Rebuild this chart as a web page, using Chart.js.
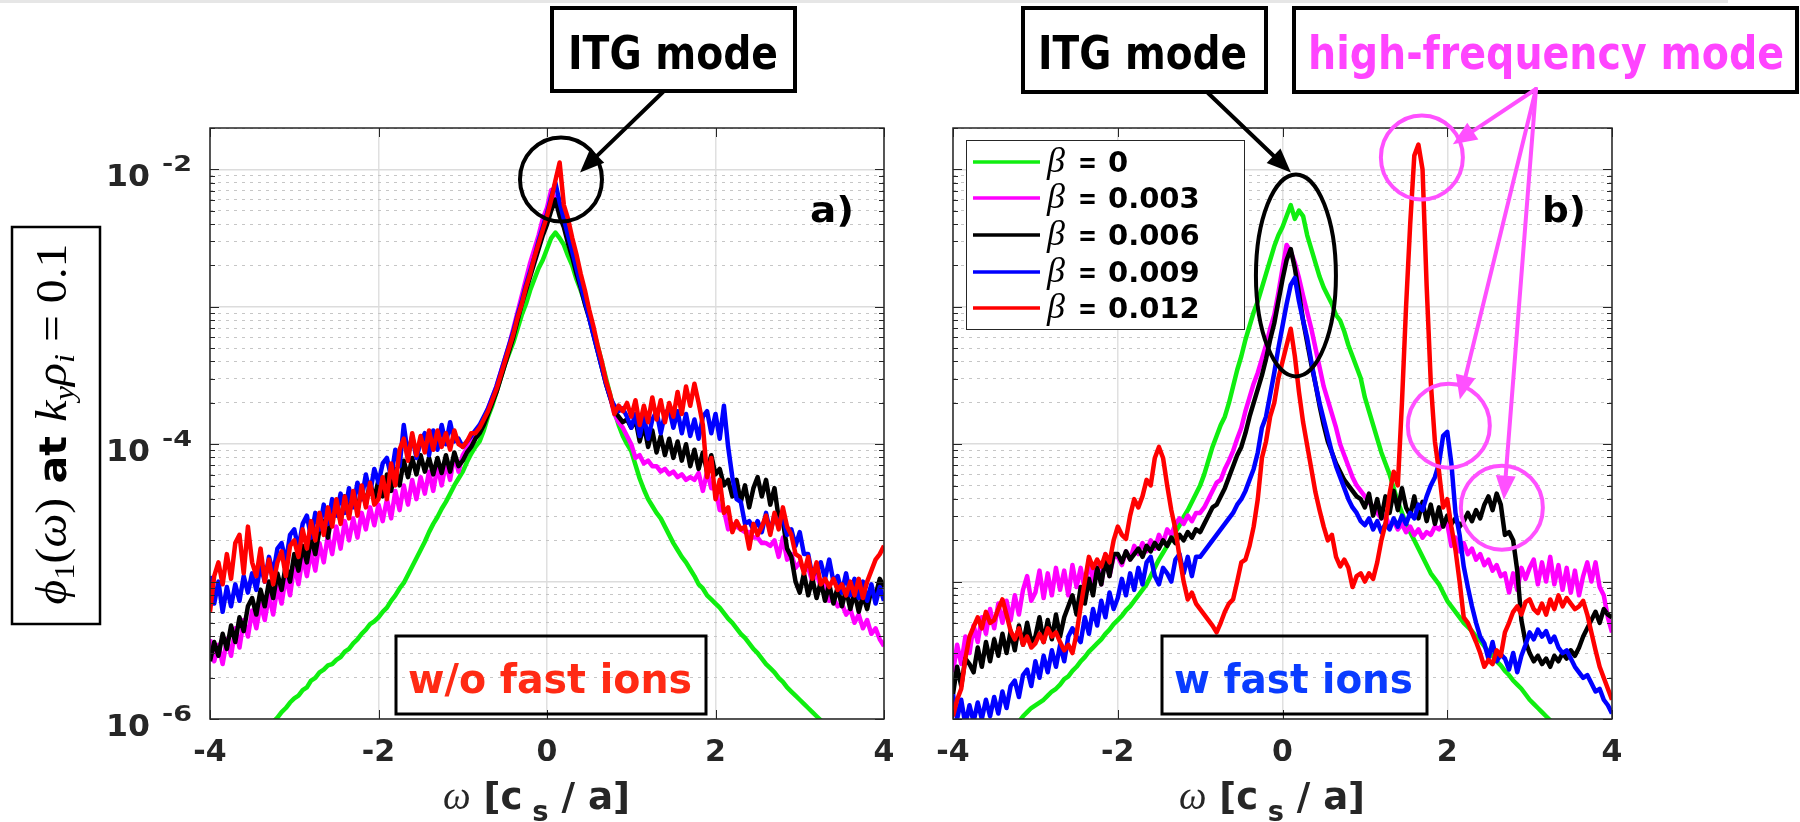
<!DOCTYPE html>
<html>
<head>
<meta charset="utf-8">
<script src="https://cdn.jsdelivr.net/npm/chart.js@4.4.0/dist/chart.umd.min.js"></script>
<style>
  html, body { margin: 0; padding: 0; background: #fff; }
  #wrap { position: relative; width: 1800px; height: 822px; overflow: hidden; background: #fff; }
  #wrap canvas { position: absolute; top: 0; }
  #topline { position: absolute; left: 0; top: 0; width: 1728px; height: 3px; background: #e6e6e6; }
</style>
</head>
<body>
<div id="wrap">
  <div id="topline"></div>
  <canvas id="panelA" width="900" height="822" style="left:0"></canvas>
  <canvas id="panelB" width="900" height="822" style="left:900px"></canvas>
</div>
<script>
// frequency grid omega [c_s/a], step 0.05 from -4 to 4
const omega = Array.from({ length: 161 }, (_, i) => Math.round((-4 + i * 0.05) * 100) / 100);

const betaLabels = ['0', '0.003', '0.006', '0.009', '0.012'];
const betaColors = ['#10ee10', '#ff00ff', '#000000', '#0000ff', '#ff0000'];

const xTicks = [-4, -2, 0, 2, 4];
const xTickLabels = ['-4', '-2', '0', '2', '4'];
const yDecades = [1e-6, 1e-5, 1e-4, 1e-3, 1e-2];
const yLabelValues = [1e-2, 1e-4, 1e-6];
const yLabelExps = ['-2', '-4', '-6'];
const Y_MIN = 1e-6, Y_MAX = 0.02;

// log10 of phi_1(omega)
// a) without fast ions
const aBeta0 = [
  -6.45,-6.43,-6.40,-6.38,-6.35,-6.33,-6.30,-6.28,-6.25,-6.22,-6.20,-6.17,-6.14,-6.10,-6.06,-6.02,-5.99,-5.95,-5.92,-5.88,
  -5.85,-5.83,-5.79,-5.77,-5.72,-5.70,-5.66,-5.64,-5.61,-5.60,-5.57,-5.55,-5.51,-5.49,-5.45,-5.42,-5.38,-5.35,-5.31,-5.29,
  -5.26,-5.22,-5.19,-5.14,-5.10,-5.05,-5.01,-4.95,-4.89,-4.83,-4.77,-4.71,-4.64,-4.58,-4.53,-4.47,-4.42,-4.36,-4.30,-4.25,
  -4.20,-4.13,-4.07,-4.02,-3.98,-3.90,-3.80,-3.72,-3.62,-3.52,-3.42,-3.34,-3.26,-3.16,-3.06,-2.98,-2.88,-2.80,-2.72,-2.66,
  -2.58,-2.50,-2.46,-2.50,-2.55,-2.63,-2.70,-2.80,-2.88,-2.97,-3.06,-3.17,-3.28,-3.40,-3.52,-3.64,-3.76,-3.86,-3.94,-4.00,
  -4.05,-4.15,-4.25,-4.33,-4.40,-4.45,-4.50,-4.54,-4.60,-4.66,-4.72,-4.77,-4.82,-4.86,-4.91,-4.96,-5.02,-5.05,-5.10,-5.13,
  -5.16,-5.19,-5.23,-5.27,-5.30,-5.34,-5.38,-5.41,-5.45,-5.49,-5.52,-5.56,-5.60,-5.63,-5.66,-5.70,-5.73,-5.77,-5.80,-5.83,
  -5.86,-5.89,-5.92,-5.95,-5.98,-6.01,-6.04,-6.07,-6.10,-6.13,-6.16,-6.19,-6.22,-6.25,-6.28,-6.31,-6.34,-6.37,-6.40,-6.43,
  -6.46];
const aBeta003 = [
  -5.42,-5.58,-5.46,-5.60,-5.42,-5.54,-5.34,-5.48,-5.28,-5.40,-5.21,-5.34,-5.16,-5.28,-5.10,-5.24,-5.04,-5.16,-4.96,-5.10,
  -4.88,-5.02,-4.82,-4.96,-4.78,-4.92,-4.72,-4.86,-4.66,-4.80,-4.60,-4.76,-4.56,-4.70,-4.54,-4.68,-4.50,-4.62,-4.46,-4.59,
  -4.44,-4.56,-4.40,-4.54,-4.34,-4.48,-4.30,-4.44,-4.26,-4.40,-4.24,-4.36,-4.20,-4.34,-4.16,-4.30,-4.14,-4.26,-4.08,-4.20,
  -4.08,-4.03,-3.98,-3.94,-3.88,-3.82,-3.74,-3.66,-3.58,-3.48,-3.38,-3.28,-3.16,-3.04,-2.92,-2.80,-2.68,-2.58,-2.48,-2.36,
  -2.28,-2.15,-2.22,-2.30,-2.38,-2.50,-2.62,-2.74,-2.86,-2.96,-3.06,-3.18,-3.30,-3.42,-3.55,-3.66,-3.78,-3.84,-3.88,-3.94,
  -4.00,-4.10,-4.08,-4.14,-4.12,-4.16,-4.16,-4.20,-4.18,-4.22,-4.20,-4.24,-4.22,-4.26,-4.24,-4.26,-4.21,-4.34,-4.20,-4.32,
  -4.32,-4.48,-4.48,-4.62,-4.58,-4.60,-4.62,-4.64,-4.64,-4.68,-4.68,-4.72,-4.72,-4.74,-4.70,-4.82,-4.68,-4.84,-4.80,-4.90,
  -4.86,-4.92,-4.90,-5.00,-4.94,-5.04,-4.98,-5.14,-5.12,-5.18,-5.16,-5.24,-5.20,-5.30,-5.24,-5.34,-5.28,-5.38,-5.34,-5.42,
  -5.47];
const aBeta006 = [
  -5.58,-5.44,-5.54,-5.38,-5.49,-5.32,-5.44,-5.26,-5.36,-5.18,-5.12,-5.24,-5.06,-5.18,-5.00,-5.12,-4.94,-5.06,-4.88,-5.00,
  -4.80,-4.92,-4.74,-4.86,-4.68,-4.80,-4.62,-4.56,-4.68,-4.50,-4.44,-4.56,-4.38,-4.50,-4.36,-4.48,-4.32,-4.44,-4.28,-4.40,
  -4.26,-4.38,-4.22,-4.34,-4.18,-4.30,-4.12,-4.24,-4.10,-4.22,-4.08,-4.20,-4.10,-4.22,-4.10,-4.21,-4.08,-4.20,-4.06,-4.16,
  -4.12,-4.06,-4.02,-3.96,-3.92,-3.86,-3.78,-3.70,-3.62,-3.52,-3.42,-3.32,-3.22,-3.10,-2.98,-2.88,-2.78,-2.68,-2.58,-2.48,
  -2.40,-2.30,-2.22,-2.34,-2.42,-2.54,-2.64,-2.76,-2.86,-2.98,-3.08,-3.20,-3.32,-3.44,-3.56,-3.66,-3.76,-3.80,-3.84,-3.82,
  -3.88,-3.82,-3.98,-3.86,-4.02,-3.90,-4.06,-3.94,-4.08,-3.96,-4.10,-3.98,-4.12,-4.00,-4.16,-4.04,-4.18,-4.06,-4.20,-4.08,
  -4.22,-4.18,-4.30,-4.26,-4.38,-4.26,-4.42,-4.30,-4.46,-4.32,-4.24,-4.38,-4.26,-4.44,-4.32,-4.54,-4.56,-4.76,-4.82,-5.00,
  -5.08,-4.94,-5.10,-4.98,-5.12,-5.00,-5.14,-5.02,-5.16,-5.04,-5.18,-5.06,-5.20,-5.08,-5.22,-5.10,-5.20,-5.06,-5.10,-4.98,
  -5.04];
const aBeta009 = [
  -4.96,-5.16,-5.00,-5.22,-5.04,-5.18,-5.02,-5.14,-4.96,-5.08,-4.94,-5.06,-4.88,-5.00,-4.82,-4.94,-4.76,-4.72,-4.86,-4.66,
  -4.62,-4.76,-4.58,-4.52,-4.68,-4.50,-4.62,-4.44,-4.58,-4.40,-4.52,-4.36,-4.50,-4.32,-4.46,-4.28,-4.40,-4.22,-4.36,-4.18,
  -4.28,-4.14,-4.10,-4.24,-4.04,-4.16,-3.86,-4.08,-3.94,-4.10,-3.98,-3.92,-4.08,-3.90,-4.04,-3.86,-4.00,-3.84,-3.98,-3.96,
  -4.02,-3.98,-3.94,-3.90,-3.86,-3.80,-3.74,-3.66,-3.58,-3.48,-3.38,-3.28,-3.18,-3.06,-2.96,-2.84,-2.74,-2.64,-2.52,-2.42,
  -2.32,-2.20,-2.10,-2.24,-2.36,-2.48,-2.60,-2.72,-2.84,-2.96,-3.08,-3.20,-3.32,-3.44,-3.56,-3.66,-3.72,-3.76,-3.74,-3.80,
  -3.88,-3.78,-3.94,-3.80,-3.96,-3.82,-3.76,-3.92,-3.78,-3.74,-3.88,-3.76,-3.92,-3.78,-3.94,-3.82,-3.96,-3.80,-3.76,-3.92,
  -3.78,-3.96,-3.72,-4.02,-4.24,-4.40,-4.42,-4.58,-4.56,-4.62,-4.56,-4.64,-4.50,-4.64,-4.52,-4.56,-4.54,-4.66,-4.62,-4.74,
  -4.64,-4.80,-4.80,-4.96,-4.92,-4.86,-4.98,-4.84,-5.00,-4.96,-5.08,-4.94,-5.10,-4.98,-5.12,-5.00,-5.14,-5.02,-5.16,-5.04,
  -5.14];
const aBeta012 = [
  -5.22,-4.96,-4.86,-5.02,-4.80,-4.98,-4.72,-4.66,-4.94,-4.60,-4.86,-4.96,-4.76,-5.00,-4.84,-5.02,-4.86,-4.78,-4.96,-4.74,
  -4.70,-4.82,-4.62,-4.76,-4.56,-4.70,-4.50,-4.66,-4.46,-4.60,-4.40,-4.58,-4.38,-4.54,-4.34,-4.52,-4.30,-4.46,-4.28,-4.44,
  -4.40,-4.24,-4.40,-4.14,-4.30,-4.04,-3.96,-4.12,-3.92,-4.08,-3.94,-4.06,-3.90,-4.04,-3.90,-4.02,-3.92,-4.04,-3.90,-4.00,
  -4.02,-3.98,-3.92,-3.92,-3.88,-3.82,-3.76,-3.68,-3.60,-3.50,-3.40,-3.30,-3.20,-3.08,-2.98,-2.86,-2.76,-2.64,-2.54,-2.44,
  -2.34,-2.22,-2.08,-1.95,-2.26,-2.36,-2.50,-2.62,-2.76,-2.88,-3.02,-3.14,-3.28,-3.40,-3.54,-3.64,-3.78,-3.72,-3.76,-3.70,
  -3.80,-3.68,-3.86,-3.72,-3.84,-3.66,-3.82,-3.68,-3.84,-3.70,-3.80,-3.62,-3.78,-3.58,-3.72,-3.56,-3.70,-3.86,-4.24,-4.10,
  -4.40,-4.26,-4.50,-4.46,-4.64,-4.56,-4.62,-4.60,-4.76,-4.58,-4.66,-4.60,-4.52,-4.66,-4.50,-4.62,-4.46,-4.60,-4.66,-4.80,
  -4.82,-4.94,-4.82,-4.98,-4.86,-5.02,-4.98,-5.04,-4.98,-5.06,-5.02,-5.10,-5.00,-5.10,-4.98,-5.12,-5.00,-4.92,-4.84,-4.80,
  -4.74];

// b) with fast ions
const bBeta0 = [
  -6.60,-6.57,-6.54,-6.51,-6.48,-6.45,-6.42,-6.39,-6.36,-6.33,-6.30,-6.26,-6.22,-6.18,-6.12,-6.06,-6.02,-5.98,-5.95,-5.92,
  -5.90,-5.88,-5.86,-5.83,-5.80,-5.78,-5.75,-5.71,-5.69,-5.65,-5.62,-5.58,-5.55,-5.51,-5.48,-5.45,-5.42,-5.38,-5.35,-5.31,
  -5.28,-5.25,-5.21,-5.18,-5.14,-5.10,-5.06,-5.02,-4.96,-4.90,-4.84,-4.79,-4.74,-4.69,-4.64,-4.59,-4.53,-4.48,-4.42,-4.36,
  -4.30,-4.22,-4.12,-4.02,-3.94,-3.86,-3.80,-3.70,-3.58,-3.46,-3.36,-3.24,-3.14,-3.04,-2.96,-2.86,-2.76,-2.66,-2.56,-2.48,
  -2.42,-2.34,-2.26,-2.36,-2.30,-2.34,-2.48,-2.58,-2.68,-2.78,-2.86,-2.92,-2.98,-3.06,-3.10,-3.18,-3.28,-3.36,-3.44,-3.52,
  -3.66,-3.76,-3.86,-3.96,-4.06,-4.14,-4.22,-4.32,-4.42,-4.50,-4.58,-4.64,-4.70,-4.76,-4.82,-4.88,-4.94,-4.98,-5.02,-5.08,
  -5.14,-5.18,-5.22,-5.26,-5.30,-5.33,-5.36,-5.40,-5.43,-5.47,-5.51,-5.54,-5.58,-5.61,-5.65,-5.68,-5.72,-5.75,-5.78,-5.82,
  -5.86,-5.89,-5.92,-5.95,-5.98,-6.01,-6.05,-6.08,-6.12,-6.15,-6.18,-6.21,-6.24,-6.27,-6.30,-6.33,-6.36,-6.39,-6.42,-6.45,
  -6.48];
const bBeta003 = [
  -5.66,-5.46,-5.60,-5.40,-5.52,-5.32,-5.44,-5.26,-5.38,-5.20,-5.34,-5.16,-5.30,-5.14,-5.28,-5.10,-5.24,-5.06,-4.96,-5.14,
  -5.08,-4.92,-5.12,-4.94,-5.10,-4.90,-5.06,-4.92,-5.10,-4.88,-5.04,-4.90,-5.06,-4.84,-5.00,-4.86,-5.02,-4.80,-4.96,-4.82,
  -4.82,-4.88,-4.78,-4.84,-4.74,-4.80,-4.72,-4.78,-4.70,-4.76,-4.66,-4.72,-4.62,-4.66,-4.58,-4.54,-4.58,-4.52,-4.56,-4.50,
  -4.50,-4.46,-4.40,-4.34,-4.28,-4.26,-4.18,-4.12,-4.05,-3.96,-3.88,-3.76,-3.66,-3.56,-3.48,-3.38,-3.28,-3.16,-3.06,-2.90,
  -2.72,-2.55,-2.60,-2.68,-2.79,-2.92,-3.04,-3.16,-3.30,-3.44,-3.58,-3.68,-3.78,-3.88,-4.00,-4.08,-4.16,-4.24,-4.30,-4.34,
  -4.38,-4.42,-4.46,-4.50,-4.54,-4.52,-4.60,-4.56,-4.62,-4.58,-4.64,-4.60,-4.66,-4.62,-4.68,-4.64,-4.66,-4.60,-4.62,-4.58,
  -4.58,-4.74,-4.68,-4.78,-4.72,-4.80,-4.76,-4.84,-4.80,-4.88,-4.84,-4.92,-4.88,-4.96,-4.94,-5.08,-4.94,-5.06,-4.90,-4.98,
  -4.90,-4.84,-5.02,-4.86,-5.00,-4.82,-5.02,-4.88,-5.06,-4.90,-5.08,-4.92,-5.10,-4.96,-4.86,-5.00,-4.86,-5.04,-5.10,-5.26,
  -5.37];
const bBeta006 = [
  -5.82,-5.62,-5.76,-5.56,-5.60,-5.66,-5.48,-5.62,-5.44,-5.58,-5.42,-5.54,-5.38,-5.52,-5.36,-5.50,-5.32,-5.46,-5.30,-5.44,
  -5.40,-5.26,-5.44,-5.28,-5.42,-5.24,-5.40,-5.26,-5.18,-5.10,-5.24,-5.04,-5.16,-4.98,-5.10,-4.90,-5.02,-4.84,-4.96,-4.80,
  -4.80,-4.86,-4.78,-4.84,-4.80,-4.76,-4.82,-4.74,-4.78,-4.72,-4.76,-4.70,-4.74,-4.68,-4.72,-4.66,-4.70,-4.64,-4.68,-4.62,
  -4.64,-4.58,-4.52,-4.46,-4.44,-4.38,-4.32,-4.24,-4.16,-4.08,-4.02,-3.92,-3.80,-3.70,-3.60,-3.50,-3.38,-3.24,-3.12,-2.96,
  -2.80,-2.66,-2.58,-2.72,-2.90,-3.10,-3.26,-3.42,-3.56,-3.72,-3.86,-3.98,-4.06,-4.14,-4.20,-4.26,-4.30,-4.34,-4.38,-4.40,
  -4.46,-4.36,-4.52,-4.40,-4.54,-4.38,-4.50,-4.34,-4.48,-4.32,-4.46,-4.52,-4.38,-4.54,-4.42,-4.56,-4.44,-4.58,-4.46,-4.60,
  -4.52,-4.58,-4.54,-4.60,-4.56,-4.50,-4.56,-4.48,-4.54,-4.44,-4.38,-4.48,-4.36,-4.44,-4.66,-4.64,-4.70,-4.92,-5.28,-5.44,
  -5.52,-5.58,-5.54,-5.60,-5.56,-5.62,-5.54,-5.58,-5.52,-5.56,-5.50,-5.54,-5.48,-5.40,-5.34,-5.28,-5.22,-5.30,-5.20,-5.24,
  -5.26];
const bBeta009 = [
  -5.82,-6.00,-5.86,-6.04,-5.90,-6.02,-5.88,-6.00,-5.86,-5.98,-5.84,-5.96,-5.80,-5.92,-5.76,-5.72,-5.84,-5.68,-5.64,-5.76,
  -5.58,-5.70,-5.54,-5.66,-5.50,-5.62,-5.46,-5.58,-5.40,-5.34,-5.40,-5.44,-5.26,-5.38,-5.20,-5.32,-5.14,-5.26,-5.08,-5.20,
  -5.12,-4.98,-5.10,-4.94,-5.06,-4.90,-5.02,-4.86,-4.82,-4.96,-5.02,-4.90,-4.94,-5.00,-4.84,-4.80,-4.94,-4.82,-4.96,-4.82,
  -4.82,-4.78,-4.74,-4.70,-4.66,-4.62,-4.58,-4.54,-4.50,-4.44,-4.40,-4.34,-4.26,-4.18,-4.06,-3.88,-3.80,-3.64,-3.48,-3.30,
  -3.14,-2.98,-2.84,-2.79,-2.96,-3.10,-3.23,-3.40,-3.56,-3.70,-3.82,-3.94,-4.06,-4.16,-4.24,-4.32,-4.40,-4.46,-4.50,-4.56,
  -4.59,-4.54,-4.62,-4.56,-4.64,-4.58,-4.62,-4.54,-4.60,-4.52,-4.58,-4.50,-4.54,-4.44,-4.48,-4.38,-4.30,-4.24,-4.14,-3.94,
  -3.91,-4.14,-4.50,-4.66,-4.89,-5.04,-5.18,-5.30,-5.40,-5.45,-5.56,-5.44,-5.58,-5.53,-5.56,-5.64,-5.52,-5.66,-5.54,-5.46,
  -5.37,-5.42,-5.35,-5.40,-5.36,-5.44,-5.40,-5.48,-5.52,-5.50,-5.56,-5.62,-5.66,-5.70,-5.68,-5.74,-5.80,-5.78,-5.86,-5.90,
  -5.96];
const bBeta012 = [
  -5.98,-5.86,-5.78,-5.56,-5.40,-5.33,-5.26,-5.34,-5.22,-5.30,-5.28,-5.20,-5.13,-5.24,-5.36,-5.42,-5.34,-5.46,-5.40,-5.48,
  -5.45,-5.38,-5.44,-5.34,-5.40,-5.37,-5.44,-5.50,-5.46,-5.52,-5.38,-5.18,-5.00,-4.82,-4.90,-4.84,-4.89,-4.80,-4.86,-4.70,
  -4.60,-4.66,-4.69,-4.52,-4.40,-4.46,-4.38,-4.26,-4.30,-4.10,-4.02,-4.10,-4.30,-4.48,-4.62,-4.82,-5.00,-5.13,-5.08,-5.16,
  -5.20,-5.24,-5.28,-5.32,-5.37,-5.30,-5.22,-5.16,-5.13,-5.00,-4.86,-4.84,-4.74,-4.60,-4.40,-4.10,-3.98,-3.80,-3.70,-3.52,
  -3.40,-3.28,-3.16,-3.36,-3.62,-3.84,-4.01,-4.18,-4.35,-4.48,-4.60,-4.70,-4.66,-4.82,-4.89,-4.84,-4.90,-5.04,-4.96,-4.94,
  -5.00,-4.94,-4.98,-4.86,-4.70,-4.58,-4.36,-4.20,-4.30,-3.70,-3.00,-2.40,-1.90,-1.82,-2.00,-2.85,-3.55,-3.98,-4.20,-4.46,
  -4.40,-4.60,-4.77,-5.00,-5.26,-5.30,-5.37,-5.44,-5.52,-5.62,-5.57,-5.60,-5.50,-5.54,-5.37,-5.30,-5.22,-5.18,-5.24,-5.15,
  -5.13,-5.20,-5.23,-5.16,-5.24,-5.13,-5.20,-5.10,-5.18,-5.12,-5.16,-5.20,-5.18,-5.14,-5.24,-5.37,-5.50,-5.62,-5.70,-5.78,
  -5.86];

// ---------- drawing helpers ----------
const AXIS_COLOR = '#262626';
const SANS = '"DejaVu Sans", "Liberation Sans", sans-serif';
const SERIF = '"Liberation Serif", "DejaVu Serif", serif';
const PLOT_TOP = 128, PLOT_BOTTOM = 719;

const isDecade = v => Math.abs(Math.log10(v) - Math.round(Math.log10(v))) < 1e-6;
const yGridValues = [];
yDecades.forEach(d => {
  for (let m = 1; m <= 9; m++) if (m * d <= Y_MAX * 1.0001) yGridValues.push(m * d);
});

// text made of parts with their own fonts, squeezed/stretched to a target width
function drawRich(ctx, parts, x, y, width, align) {
  ctx.save();
  let total = 0;
  const widths = parts.map(p => { ctx.font = p.font; const w = ctx.measureText(p.t).width; total += w; return w; });
  const sx = width ? width / total : 1;
  let x0 = x;
  if (align === 'center') x0 = x - total * sx / 2;
  if (align === 'right') x0 = x - total * sx;
  ctx.translate(x0, y);
  ctx.scale(sx, 1);
  ctx.textAlign = 'left';
  ctx.textBaseline = 'alphabetic';
  let cx = 0;
  parts.forEach((p, i) => {
    ctx.font = p.font;
    ctx.fillStyle = p.color || '#000';
    ctx.fillText(p.t, cx, p.dy || 0);
    cx += widths[i];
  });
  ctx.restore();
}

function drawArrow(ctx, x1, y1, x2, y2, color) {
  const ang = Math.atan2(y2 - y1, x2 - x1);
  const hl = 24, hw = 20;
  const bx = x2 - hl * Math.cos(ang), by = y2 - hl * Math.sin(ang);
  ctx.strokeStyle = color; ctx.lineWidth = 4; ctx.lineCap = 'round';
  ctx.beginPath(); ctx.moveTo(x1, y1); ctx.lineTo(bx, by); ctx.stroke();
  ctx.fillStyle = color;
  ctx.beginPath();
  ctx.moveTo(x2, y2);
  ctx.lineTo(bx + hw / 2 * Math.sin(ang), by - hw / 2 * Math.cos(ang));
  ctx.lineTo(bx - hw / 2 * Math.sin(ang), by + hw / 2 * Math.cos(ang));
  ctx.closePath(); ctx.fill();
}

function drawBox(ctx, b, lw) {
  ctx.strokeStyle = '#000'; ctx.lineWidth = lw;
  ctx.strokeRect(b[0], b[1], b[2] - b[0], b[3] - b[1]);
}

// ---------- panel layout ----------
const panels = [
  {
    canvas: 'panelA', offset: 0, left: 210, right: 884,
    series: [aBeta0, aBeta003, aBeta006, aBeta009, aBeta012],
    yLabels: true,
    tag: { text: 'a)', x: 810, y: 222 },
    note: { text: 'w/o fast ions', color: '#ff2a14', box: [396, 636, 706, 714], x: 408, w: 284 },
    xTitle: { x: 443, w: 187 },
    boxes: [{ text: 'ITG mode', color: '#000', box: [552, 8, 795, 91], x: 568, w: 210 }],
    rings: [{ w: 0.166, lg: -2.073, rx: 41, ry: 42, color: '#000' }],
    arrows: [{ from: [663, 92], w: 0.392, lg: -2.022, color: '#000' }],
    legend: null
  },
  {
    canvas: 'panelB', offset: 900, left: 953, right: 1612,
    series: [bBeta0, bBeta003, bBeta006, bBeta009, bBeta012],
    yLabels: false,
    tag: { text: 'b)', x: 1542, y: 222 },
    note: { text: 'w fast ions', color: '#0a3cff', box: [1162, 636, 1427, 714], x: 1174, w: 239 },
    xTitle: { x: 1179, w: 186 },
    boxes: [
      { text: 'ITG mode', color: '#000', box: [1023, 8, 1266, 92], x: 1038, w: 209 },
      { text: 'high-frequency mode', color: '#ff44ff', box: [1294, 8, 1797, 92], x: 1308, w: 476 }
    ],
    rings: [
      { w: 0.163, lg: -2.772, rx: 40, ry: 101, color: '#000' },
      { w: 1.692, lg: -1.913, rx: 41, ry: 42, color: '#ff50ff' },
      { w: 2.019, lg: -3.865, rx: 41, ry: 42, color: '#ff50ff' },
      { w: 2.663, lg: -4.462, rx: 41, ry: 42, color: '#ff50ff' }
    ],
    arrows: [
      { from: [1208, 93], w: 0.102, lg: -2.022, color: '#000' },
      { from: [1536, 89], w: 2.068, lg: -1.818, color: '#ff50ff' },
      { from: [1536, 89], w: 2.153, lg: -3.675, color: '#ff50ff' },
      { from: [1536, 89], w: 2.687, lg: -4.404, color: '#ff50ff' }
    ],
    legend: { box: [966, 140, 1244, 329], rows: [162, 198, 235, 272, 308], lineX: [973, 1040], betaX: 1047, eqX: 1078, valX: 1108 }
  }
];

function overlayPlugin(p) {
  return {
    id: 'overlay',
    afterDraw(chart) {
      const ctx = chart.ctx, a = chart.chartArea;
      const xs = chart.scales.x, ys = chart.scales.y;
      const PX = v => xs.getPixelForValue(v) + p.offset;
      const PY = v => ys.getPixelForValue(v);
      ctx.save();
      ctx.translate(-p.offset, 0);
      const L = a.left + p.offset, R = a.right + p.offset, T = a.top, B = a.bottom;

      // inward ticks on all four sides
      ctx.strokeStyle = AXIS_COLOR; ctx.lineWidth = 1;
      ctx.beginPath();
      xTicks.forEach(v => {
        const px = Math.round(PX(v)) + 0.5;
        ctx.moveTo(px, B); ctx.lineTo(px, B - 9);
        ctx.moveTo(px, T); ctx.lineTo(px, T + 9);
      });
      yGridValues.forEach(v => {
        const py = Math.round(PY(v)) + 0.5;
        const len = isDecade(v) ? 9 : 5;
        ctx.moveTo(L, py); ctx.lineTo(L + len, py);
        ctx.moveTo(R, py); ctx.lineTo(R - len, py);
      });
      ctx.stroke();
      ctx.lineWidth = 1.5;
      ctx.strokeRect(L, T, R - L, B - T);

      // tick labels
      xTicks.forEach((v, i) => {
        drawRich(ctx, [{ t: xTickLabels[i], font: `bold 30px ${SANS}`, color: '#262626' }], PX(v), 761, null, 'center');
      });
      if (p.yLabels) {
        yLabelValues.forEach((v, i) => {
          const py = PY(v);
          drawRich(ctx, [{ t: '10', font: `bold 30px ${SANS}`, color: '#262626' }], 106, py + 17, 44, 'left');
          drawRich(ctx, [{ t: yLabelExps[i], font: `bold 21px ${SANS}`, color: '#262626' }], 162, py + 2, 30, 'left');
        });
        // boxed y title
        drawBox(ctx, [12, 227, 100, 624], 2.5);
        ctx.save();
        ctx.translate(66, 424);
        ctx.rotate(-Math.PI / 2);
        drawRich(ctx, [
          { t: '\u03D5', font: `italic 44px ${SERIF}` },
          { t: '1', font: `30px ${SERIF}`, dy: 8 },
          { t: '(', font: `44px ${SERIF}` },
          { t: '\u03C9', font: `italic 44px ${SERIF}` },
          { t: ')', font: `44px ${SERIF}` },
          { t: ' at ', font: `bold 38px ${SANS}` },
          { t: 'k', font: `italic 44px ${SERIF}` },
          { t: 'y', font: `italic 30px ${SERIF}`, dy: 8 },
          { t: '\u03C1', font: `italic 44px ${SERIF}` },
          { t: 'i', font: `italic 30px ${SERIF}`, dy: 8 },
          { t: ' = 0.1', font: `44px ${SERIF}` }
        ], 0, 0, 361, 'center');
        ctx.restore();
      }

      // x title
      drawRich(ctx, [
        { t: '\u03C9', font: `italic 40px ${SERIF}`, color: '#262626' },
        { t: ' [c', font: `bold 38px ${SANS}`, color: '#262626' },
        { t: ' s', font: `bold 28px ${SANS}`, color: '#262626', dy: 12 },
        { t: ' / a]', font: `bold 38px ${SANS}`, color: '#262626' }
      ], p.xTitle.x, 809, p.xTitle.w, 'left');

      // panel tag
      drawRich(ctx, [{ t: p.tag.text, font: `bold 36px ${SANS}` }], p.tag.x, p.tag.y, 44, 'left');

      // note box at the bottom
      drawBox(ctx, p.note.box, 3);
      drawRich(ctx, [{ t: p.note.text, font: `bold 40px ${SANS}`, color: p.note.color }], p.note.x, 693, p.note.w, 'left');

      // legend
      if (p.legend) {
        const lg = p.legend;
        ctx.fillStyle = '#fff';
        ctx.fillRect(lg.box[0], lg.box[1], lg.box[2] - lg.box[0], lg.box[3] - lg.box[1]);
        ctx.strokeStyle = AXIS_COLOR; ctx.lineWidth = 1;
        ctx.strokeRect(lg.box[0] + 0.5, lg.box[1] + 0.5, lg.box[2] - lg.box[0], lg.box[3] - lg.box[1]);
        chart.data.datasets.forEach((ds, k) => {
          const y = lg.rows[k];
          ctx.strokeStyle = ds.borderColor; ctx.lineWidth = 3.5;
          ctx.beginPath(); ctx.moveTo(lg.lineX[0], y); ctx.lineTo(lg.lineX[1], y); ctx.stroke();
          drawRich(ctx, [{ t: '\u03B2', font: `italic 36px ${SERIF}` }], lg.betaX, y + 10, null, 'left');
          drawRich(ctx, [{ t: '=', font: `bold 28px ${SANS}` }], lg.eqX, y + 10, 19, 'left');
          drawRich(ctx, [{ t: betaLabels[k], font: `bold 29px ${SANS}` }], lg.valX, y + 10, null, 'left');
        });
      }

      // annotation boxes
      p.boxes.forEach(b => {
        drawBox(ctx, b.box, 4);
        drawRich(ctx, [{ t: b.text, font: `bold 47px ${SANS}`, color: b.color }], b.x, 69, b.w, 'left');
      });
      // rings around the modes
      p.rings.forEach(r => {
        ctx.strokeStyle = r.color; ctx.lineWidth = 4;
        ctx.beginPath();
        ctx.ellipse(PX(r.w), PY(Math.pow(10, r.lg)), r.rx, r.ry, 0, 0, Math.PI * 2);
        ctx.stroke();
      });
      // arrows
      p.arrows.forEach(ar => {
        drawArrow(ctx, ar.from[0], ar.from[1], PX(ar.w), PY(Math.pow(10, ar.lg)), ar.color);
      });
      ctx.restore();
    }
  };
}

panels.forEach(p => {
  const datasets = p.series.map((vals, k) => ({
    label: '\u03B2 = ' + betaLabels[k],
    data: omega.map((w, i) => ({ x: w, y: Math.pow(10, vals[i]) })),
    borderColor: betaColors[k],
    borderWidth: 4.5,
    borderJoinStyle: 'round',
    pointRadius: 0,
    tension: 0,
    fill: false,
    order: p.series.length - k
  }));
  const logAxis = (gridColor, width, dash) => ({
    type: 'logarithmic', position: 'left', min: Y_MIN, max: Y_MAX,
    afterBuildTicks: s => { s.ticks = yGridValues.map(v => ({ value: v })); },
    afterFit: s => { s.width = 0; },
    ticks: { display: false },
    grid: { color: gridColor, drawTicks: false, lineWidth: width },
    border: { display: false, dash: dash }
  });
  new Chart(document.getElementById(p.canvas), {
    type: 'line',
    data: { datasets },
    options: {
      responsive: false,
      animation: false,
      events: [],
      layout: { padding: { left: p.left - p.offset, right: p.offset + 900 - p.right, top: PLOT_TOP, bottom: 822 - PLOT_BOTTOM } },
      plugins: { legend: { display: false }, tooltip: { enabled: false } },
      scales: {
        x: {
          type: 'linear', min: -4, max: 4,
          afterBuildTicks: s => { s.ticks = xTicks.map(v => ({ value: v })); },
          afterFit: s => { s.height = 0; },
          ticks: { display: false },
          grid: { color: '#e0e0e0', drawTicks: false, lineWidth: 1.5 },
          border: { display: false }
        },
        y: logAxis(c => (c.tick && isDecade(c.tick.value)) ? '#dcdcdc' : 'rgba(0,0,0,0)', 1.5, []),
        yMinor: logAxis(c => (c.tick && !isDecade(c.tick.value)) ? '#c6c6c6' : 'rgba(0,0,0,0)', 1, [3, 5])
      }
    },
    plugins: [overlayPlugin(p)]
  });
});
</script>
</body>
</html>
